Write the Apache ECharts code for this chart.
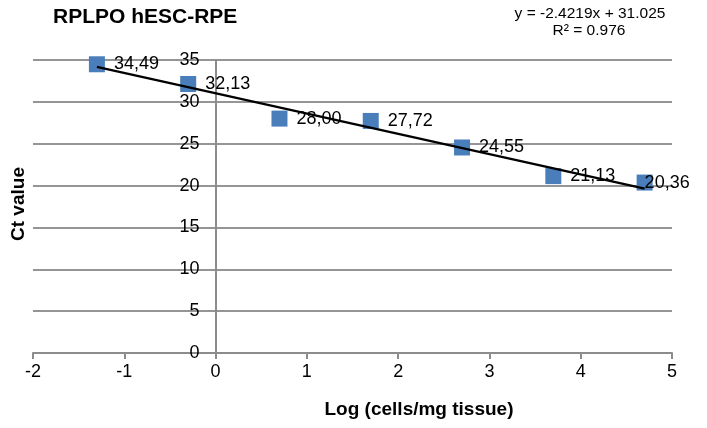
<!DOCTYPE html>
<html>
<head>
<meta charset="utf-8">
<script src="https://cdn.jsdelivr.net/npm/echarts@6/dist/echarts.min.js"></script>
<style>html,body{margin:0;padding:0;background:#fff;}#c{width:707px;height:428px;}</style>
</head>
<body>
<div id="c"></div>
<script>
// Data
var xValues = [-1.3, -0.3, 0.7, 1.7, 2.7, 3.7, 4.7];
var ctValues = [34.49, 32.13, 28.00, 27.72, 24.55, 21.13, 20.36];
var trendX = [-1.3, 4.7];
var trendY = [34.17, 19.64];
var xTicks = [-2, -1, 0, 1, 2, 3, 4, 5];
var yTicks = [0, 5, 10, 15, 20, 25, 30, 35];
var titleText = 'RPLPO hESC-RPE';
var equationText = 'y = -2.4219x + 31.025';
var r2Text = 'R² = 0.976';
var xName = 'Log (cells/mg tissue)';
var yName = 'Ct value';

var FONT = '"Liberation Sans", Arial, sans-serif';
var GRID_LEFT = 33, GRID_RIGHT = 35, W = 707;
var plotW = W - GRID_LEFT - GRID_RIGHT;
var xMin = xTicks[0], xMax = xTicks[xTicks.length - 1];
// y axis sits at x = 0 (as in the reference), labels move with it
var yAxisOffset = -(0 - xMin) / (xMax - xMin) * plotW;

var points = xValues.map(function (x, i) {
  var item = {value: [x, ctValues[i]]};
  if (i === xValues.length - 1) {
    item.label = {offset: [-17, 0]};
  }
  return item;
});
var trend = trendX.map(function (x, i) { return [x, trendY[i]]; });

var chart = echarts.init(document.getElementById('c'), null, {renderer: 'canvas'});
chart.setOption({
  animation: false,
  backgroundColor: '#ffffff',
  grid: {left: GRID_LEFT, right: GRID_RIGHT, top: 60, bottom: 75, containLabel: false},
  xAxis: {
    type: 'value', min: xMin, max: xMax, interval: 1,
    splitLine: {show: false},
    axisLine: {onZero: true, lineStyle: {color: '#8c8c8c', width: 2}},
    axisTick: {show: true, length: 6, lineStyle: {color: '#8c8c8c', width: 2}},
    axisLabel: {color: '#000', fontSize: 18, fontFamily: FONT, margin: 10}
  },
  yAxis: {
    type: 'value', min: yTicks[0], max: yTicks[yTicks.length - 1], interval: 5,
    offset: yAxisOffset,
    splitLine: {show: true, lineStyle: {color: '#959595', width: 2}},
    axisLine: {show: true, onZero: false, lineStyle: {color: '#8c8c8c', width: 2}},
    axisTick: {show: false},
    axisLabel: {color: '#000', fontSize: 18, fontFamily: FONT, margin: 16}
  },
  series: [
    {
      type: 'line', data: trend, symbol: 'none', z: 3,
      lineStyle: {color: '#000000', width: 2.2}
    },
    {
      type: 'scatter', data: points, symbol: 'rect', symbolSize: 16, z: 2,
      itemStyle: {color: '#4a7ebb', opacity: 1},
      label: {
        show: true, position: 'right', distance: 9, color: '#000', fontSize: 18, fontFamily: FONT,
        formatter: function (p) { return p.value[1].toFixed(2).replace('.', ','); }
      }
    }
  ],
  graphic: [
    {type: 'text', left: 53, top: 7, style: {text: titleText, font: 'bold 21px ' + FONT, fill: '#000'}},
    {type: 'text', x: 590, y: 6, style: {text: equationText, font: '15.5px ' + FONT, fill: '#000', textAlign: 'center'}},
    {type: 'text', x: 589, y: 23, style: {text: r2Text, font: '15.5px ' + FONT, fill: '#000', textAlign: 'center'}},
    {type: 'text', x: 419, y: 400, style: {text: xName, font: 'bold 19px ' + FONT, fill: '#000', textAlign: 'center'}},
    {type: 'text', x: 19, y: 204, rotation: Math.PI / 2, style: {text: yName, font: 'bold 19px ' + FONT, fill: '#000', textAlign: 'center', textVerticalAlign: 'middle'}}
  ]
});
</script>
</body>
</html>
